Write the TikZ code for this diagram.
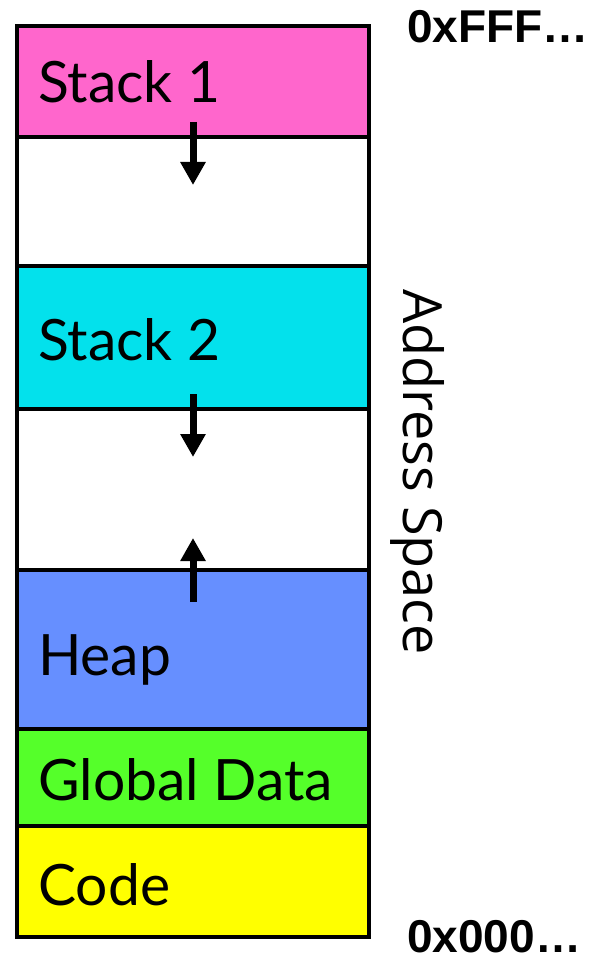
\documentclass[tikz,border=0pt]{standalone}
\usepackage{fontspec}
\setmainfont{Lato}
\newfontfamily\addrfont{Open Sans}
\newfontfamily\hexfont{Liberation Sans}
\usetikzlibrary{arrows.meta}
\definecolor{stackone}{HTML}{FF66CC}
\definecolor{stacktwo}{HTML}{03E1EC}
\definecolor{heapc}{HTML}{668FFF}
\definecolor{globc}{HTML}{55FF2A}
\definecolor{codec}{HTML}{FFFF00}
\begin{document}
\begin{tikzpicture}[x=1pt,y=-1pt,
  region/.style={draw=black, line width=4pt, rectangle, minimum width=352pt,
    inner sep=0pt, outer sep=0pt, anchor=north west},
  lbl/.style={font=\fontsize{57}{60}\selectfont, anchor=base west, inner sep=0pt},
  addrlbl/.style={font=\hexfont\bfseries\fontsize{46}{50}\selectfont, anchor=base west, inner sep=0pt},
  growarrow/.style={line width=7pt, -{Triangle[width=24pt,length=23pt]}}]
\useasboundingbox (0,0) rectangle (598,960);
\node[region, fill=stackone, minimum height=111pt] (s1) at (17,26) {};
\node[region, fill=white, minimum height=129pt] (gap1) at (17,137) {};
\node[region, fill=stacktwo, minimum height=143pt] (s2) at (17,266) {};
\node[region, fill=white, minimum height=161pt] (gap2) at (17,409) {};
\node[region, fill=heapc, minimum height=159pt] (heap) at (17,570) {};
\node[region, fill=globc, minimum height=97pt] (glob) at (17,729) {};
\node[region, fill=codec, minimum height=111pt] (code) at (17,826) {};
\node[lbl] (t1) at (38,103) {Stack 1};
\node[lbl] (t2) at (38,360) {Stack 2};
\node[lbl] (t3) at (38,675) {Heap};
\node[lbl] (t4) at (38,800) {Global Data};
\node[lbl] (t5) at (38,905) {Code};
\node[addrlbl] (hi) at (407,43) {0xFFF…};
\node[addrlbl] (lo) at (407,952) {0x000…};
\node[font=\addrfont\fontsize{54}{58}\selectfont, rotate=-90, inner sep=0pt] (as) at (418,472) {Address Space};
\coordinate (a1s) at (193,122);
\coordinate (a1e) at (193,185);
\coordinate (a2s) at (193,394);
\coordinate (a2e) at (193,457);
\coordinate (a3s) at (193,602);
\coordinate (a3e) at (193,538);
\draw[growarrow] (a1s) -- (a1e);
\draw[growarrow] (a2s) -- (a2e);
\draw[growarrow] (a3s) -- (a3e);
\end{tikzpicture}
\end{document}
